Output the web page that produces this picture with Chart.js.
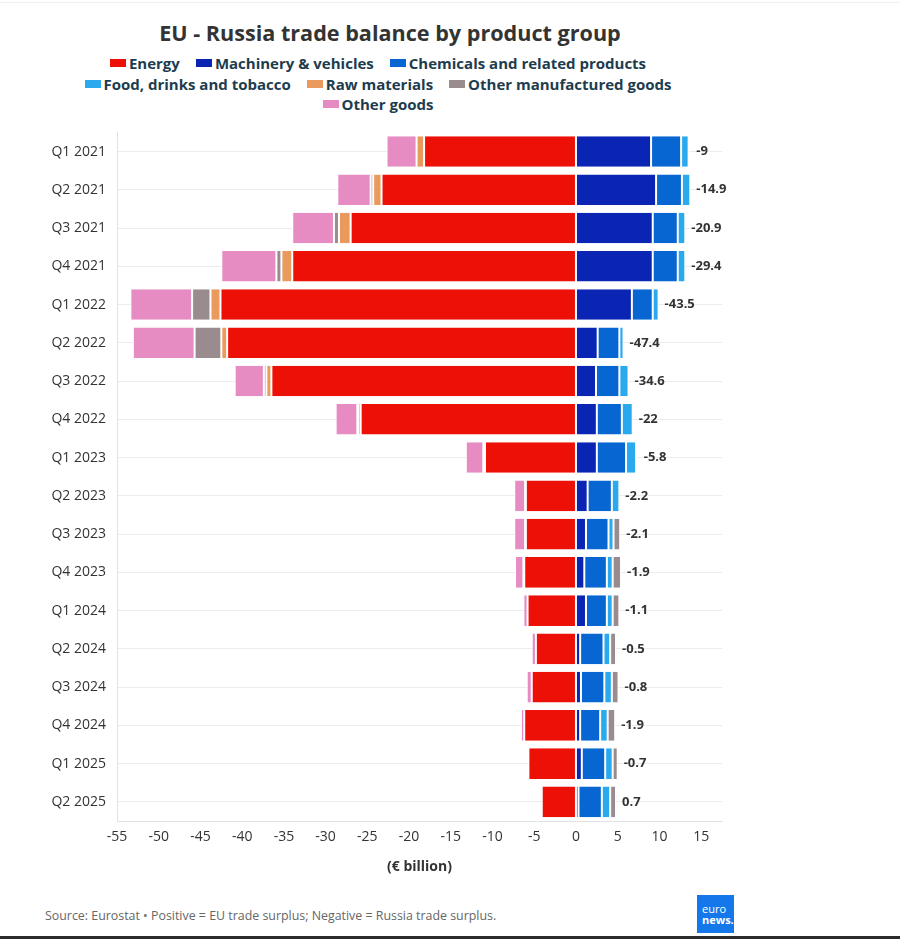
<!DOCTYPE html>
<html>
<head>
<meta charset="utf-8">
<script src="https://cdn.jsdelivr.net/npm/chart.js@4.4.0/dist/chart.umd.min.js"></script>
<style>
  body { margin: 0; background: #fff; font-family: "Open Sans", sans-serif; }
  #page { position: relative; width: 900px; height: 939px; overflow: hidden; }
  #topline { position: absolute; left: 0; top: 2px; width: 900px; height: 1px; background: #f0f0f0; }
  #titulo { position: absolute; left: 0; top: 18px; width: 780px; text-align: center;
    font-weight: 700; font-size: 21.6px; line-height: 30px; color: #333; }
  #legenda { position: absolute; left: 0; top: 53px; width: 756px; }
  .linha { display: flex; justify-content: center; height: 20.5px; align-items: center; }
  .item { display: flex; align-items: center; margin: 0 8px; font-weight: 700; font-size: 15px; color: #1d3c4e; white-space: nowrap; }
  .caixa { width: 16px; height: 8px; margin-right: 3px; }
  #grafico { position: absolute; left: 0; top: 113px; }
  #fonte { position: absolute; left: 45px; top: 907px; font-size: 12.4px; color: #666; }
  #logo { position: absolute; left: 697px; top: 895px; width: 37px; height: 38px; background: #1478ea;
    color: #fff; font-size: 11px; line-height: 10px; }
  #logo span { position: absolute; left: 5px; }
  #bottomline { position: absolute; left: 0; top: 936px; width: 900px; height: 3px; background: #2b2b2b; }
</style>
</head>
<body>
<div id="page">
  <div id="topline"></div>
  <div id="titulo">EU - Russia trade balance by product group</div>
  <div id="legenda"></div>
  <canvas id="grafico" width="760" height="772"></canvas>
  <div id="fonte">Source: Eurostat • Positive = EU trade surplus; Negative = Russia trade surplus.</div>
  <div id="logo"><span style="top:9px">euro</span><span style="top:20px;font-weight:700">news.</span></div>
  <div id="bottomline"></div>
</div>
<script>
const trimestres = ["Q1 2021", "Q2 2021", "Q3 2021", "Q4 2021", "Q1 2022", "Q2 2022", "Q3 2022", "Q4 2022",
  "Q1 2023", "Q2 2023", "Q3 2023", "Q4 2023", "Q1 2024", "Q2 2024", "Q3 2024", "Q4 2024", "Q1 2025", "Q2 2025"];

const energia     = [-18.2, -23.3, -27.0, -34.0, -42.6, -41.8, -36.5, -25.8, -10.9, -6.0, -6.0, -6.2, -5.8, -4.8, -5.3, -6.2, -5.7, -4.1];
const maquinas    = [9.0, 9.6, 9.2, 9.2, 6.7, 2.6, 2.4, 2.5, 2.5, 1.4, 1.2, 1.0, 1.2, 0.5, 0.6, 0.5, 0.7, 0.3];
const quimicos    = [3.6, 3.1, 3.0, 3.0, 2.5, 2.6, 2.8, 3.0, 3.5, 2.9, 2.7, 2.7, 2.5, 2.8, 2.8, 2.4, 2.8, 2.8];
const alimentos   = [0.9, 1.0, 0.9, 0.9, 0.7, 0.5, 1.1, 1.3, 1.2, 0.9, 0.6, 0.7, 0.7, 0.8, 0.9, 0.9, 0.9, 1.0];
const materiasPrimas = [-0.9, -1.0, -1.4, -1.3, -1.2, -0.7, -0.6, -0.3, -0.2, -0.1, -0.1, -0.1, 0, 0, 0, 0, 0, 0];
const outrosManuf = [0.2, -0.3, -0.6, -0.6, -2.2, -3.2, -0.3, -0.1, 0.2, 0, 0.8, 1.0, 0.8, 0.7, 0.8, 0.9, 0.6, 0.7];
const outrosBens  = [-3.6, -4.0, -5.0, -6.6, -7.4, -7.4, -3.5, -2.6, -2.1, -1.3, -1.3, -1.0, -0.5, -0.5, -0.6, -0.4, 0, 0];

const saldo = ["-9", "-14.9", "-20.9", "-29.4", "-43.5", "-47.4", "-34.6", "-22", "-5.8", "-2.2", "-2.1", "-1.9",
  "-1.1", "-0.5", "-0.8", "-1.9", "-0.7", "0.7"];

const eixoX = [-55, -50, -45, -40, -35, -30, -25, -20, -15, -10, -5, 0, 5, 10, 15];

const grupos = ["Energy", "Machinery & vehicles", "Chemicals and related products", "Food, drinks and tobacco",
  "Raw materials", "Other manufactured goods", "Other goods"];
const cores = ["#ec1007", "#0a25b4", "#0866d2", "#2ba9ee", "#e99a5c", "#9a8b8e", "#e68cc3"];
const series = [energia, maquinas, quimicos, alimentos, materiasPrimas, outrosManuf, outrosBens];

// Legenda em HTML (3 linhas)
const linhasLegenda = [[0, 1, 2], [3, 4, 5], [6]];
const legenda = document.getElementById("legenda");
linhasLegenda.forEach(l => {
  const div = document.createElement("div");
  div.className = "linha";
  l.forEach(i => {
    div.innerHTML += `<span class="item"><span class="caixa" style="background:${cores[i]}"></span>${grupos[i]}</span>`;
  });
  legenda.appendChild(div);
});

// Rótulos do saldo à direita de cada barra
const rotulosSaldo = {
  id: "rotulosSaldo",
  afterDatasetsDraw(chart) {
    const ctx = chart.ctx;
    ctx.save();
    ctx.font = "700 13px 'Open Sans'";
    ctx.fillStyle = "#333";
    ctx.textBaseline = "middle";
    trimestres.forEach((t, j) => {
      let xFim = chart.scales.x.getPixelForValue(0), y = 0;
      chart.data.datasets.forEach((ds, i) => {
        const el = chart.getDatasetMeta(i).data[j];
        y = el.y;
        if (ds.data[j] > 0 && el.x > xFim) xFim = el.x;
      });
      ctx.fillText(saldo[j], xFim + 6, y);
    });
    ctx.restore();
  }
};

new Chart(document.getElementById("grafico"), {
  type: "bar",
  data: {
    labels: trimestres,
    datasets: grupos.map((g, i) => ({
      label: g,
      data: series[i],
      backgroundColor: cores[i],
      borderColor: "#fff",
      borderWidth: {left: 1, right: 1, top: 0, bottom: 0},
      borderSkipped: false,
      barPercentage: 0.8,
      categoryPercentage: 1
    }))
  },
  options: {
    indexAxis: "y",
    responsive: false,
    animation: false,
    devicePixelRatio: 1,
    layout: { padding: { top: 6, right: 38, left: 0, bottom: 0 } },
    plugins: { legend: { display: false }, tooltip: { enabled: false } },
    scales: {
      x: {
        stacked: true, min: -55, max: 17.5,
        afterBuildTicks: s => { s.ticks = eixoX.map(v => ({value: v})); },
        afterFit: s => { s.height = 64; },
        grid: { display: false, drawTicks: false },
        border: { display: true, color: "#e2e2e2" },
        ticks: { padding: 8, color: "#333", font: { family: "'Open Sans'", size: 14 } },
        title: { display: true, text: "(€ billion)", color: "#333", padding: { top: 4, bottom: 10 },
          font: { family: "'Open Sans'", size: 14, weight: "700" } }
      },
      y: {
        stacked: true,
        afterFit: s => { s.width = 117; },
        grid: { color: "#ececec", offset: false, drawTicks: false },
        border: { display: true, color: "#e2e2e2" },
        ticks: { padding: 11, color: "#333", font: { family: "'Open Sans'", size: 14 } }
      }
    }
  },
  plugins: [rotulosSaldo]
});
</script>
</body>
</html>
